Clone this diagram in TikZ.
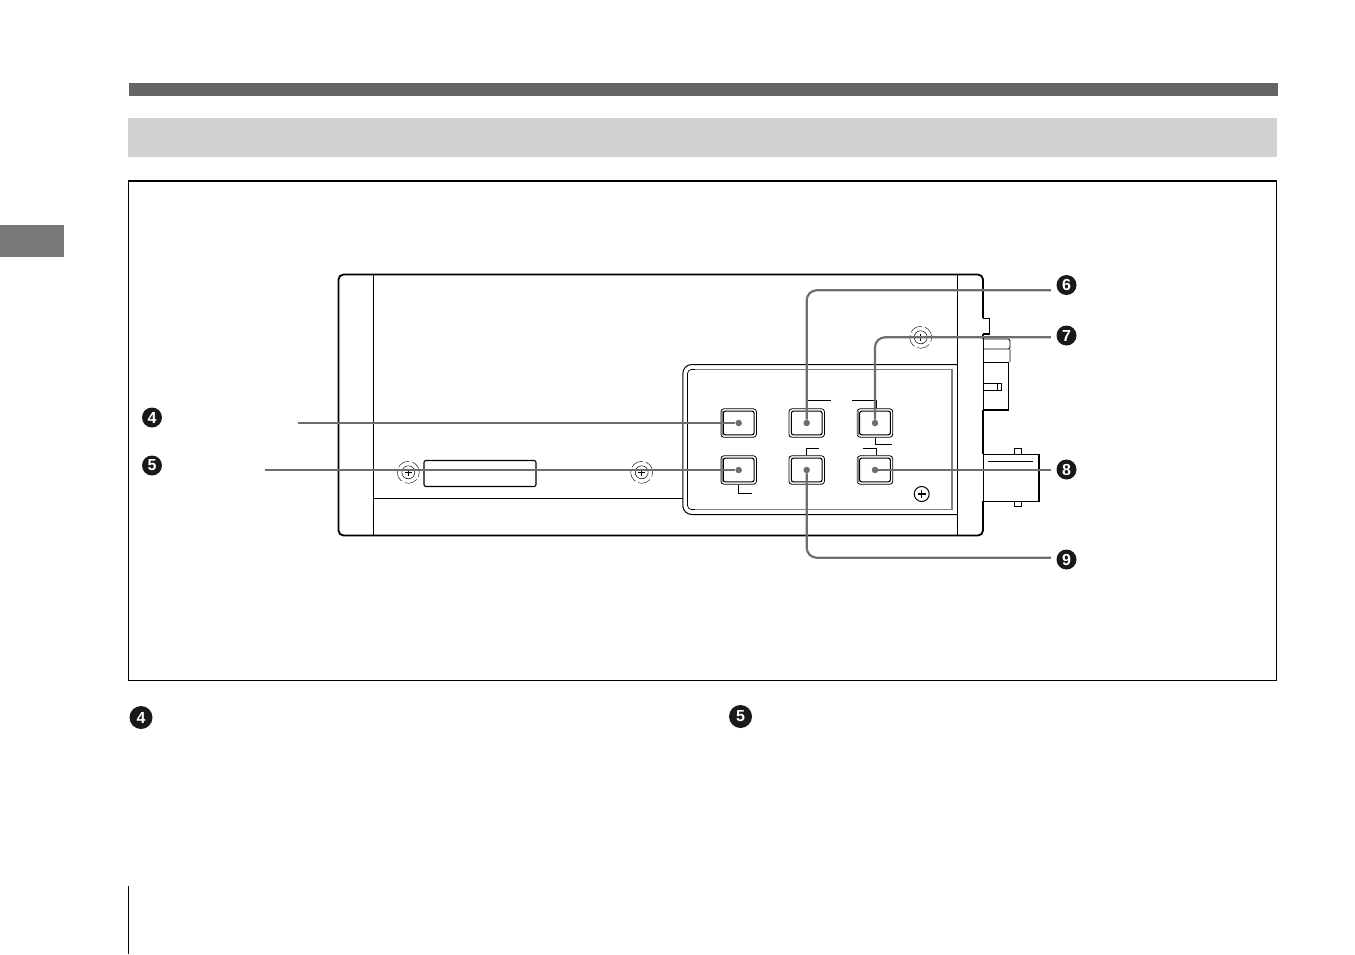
\documentclass[tikz,border=0pt]{standalone}
\usepackage{fontspec}
\setsansfont{Liberation Sans}
\definecolor{bandgray}{HTML}{666464}
\definecolor{tabgray}{HTML}{7A7878}
\definecolor{lightband}{HTML}{D1D1D1}
\definecolor{leadgray}{HTML}{6E6E6E}
\tikzset{
  badge/.style={circle,fill=black!90,text=white,inner sep=0pt,minimum size=#1,font=\sffamily\bfseries\fontsize{16}{16}\selectfont},
  keycap/.style={draw,line width=0.8pt,rounded corners=3pt,minimum width=35.5pt,minimum height=28.5pt,inner sep=0pt},
  keydot/.style={circle,fill=leadgray,inner sep=0pt,minimum size=6.5pt},
  leader/.style={draw=leadgray,line width=2.2pt,rounded corners=10pt},
  screw/.style={circle,draw,inner sep=0pt,minimum size=#1},
}
\begin{document}
\begin{tikzpicture}[x=1pt,y=-1pt]
	\useasboundingbox (0,0) rectangle (1355,954);
	\fill[bandgray] (129,83) rectangle (1278,96);
	\fill[lightband] (128,118) rectangle (1277,157);
	\fill[tabgray] (0,225) rectangle (64,257);
	\draw[line width=1pt] (128.5,180.5) rectangle (1276.7,680.7);
	\draw[line width=2pt] (128,180.5)--(1277,180.5);
	\draw[line width=1pt] (128.5,886)--(128.5,954);
	\draw[line width=1.8pt,rounded corners=5pt] (975,274.5)--(338.5,274.5)--(338.5,535.5)--(975,535.5);
	\draw[line width=1.8pt,rounded corners=5pt] (975,274.5)--(983,274.5)--(983,318);
	\draw[line width=2.4pt] (983,300)--(983,318) (983,334)--(983,339) (983,410)--(983,454) (983,501)--(983,525);
	\draw[line width=1.8pt,rounded corners=5pt] (983,520)--(983,535.5)--(975,535.5);
	\draw[line width=0.8pt] (983,339)--(983,501);
	\draw[line width=1pt] (373.5,274.5)--(373.5,535.5) (957.5,274.5)--(957.5,535.5) (373.5,498.5)--(683,498.5);
	\draw[line width=1.1pt,rounded corners=2pt] (424,460.5) rectangle (536,486.5);
	\draw[line width=1.3pt] (983,318.5)--(989.5,318.5)--(989.5,334)--(983,334);
	\draw[line width=0.9pt,rounded corners=1.5pt] (983,339)--(1010,339)--(1010,349)--(983,349) (1010,349)--(1010,362);
	\draw[line width=1.6pt] (983,362.5)--(1008.5,362.5)--(1008.5,410)--(983,410);
	\draw[line width=0.8pt] (983,383.5)--(1001.5,383.5)--(1001.5,390.5)--(983,390.5) (997.5,383.5)--(997.5,390.5);
	\draw[line width=0.8pt] (1014.5,454)--(1014.5,448.5)--(1021.5,448.5)--(1021.5,454) (1014.5,501)--(1014.5,506.5)--(1021.5,506.5)--(1021.5,501);
	\draw[line width=1pt] (983,454.5)--(1039,454.5) (983,501)--(1039,501) (987.5,461.5)--(1032.5,461.5);
	\draw[line width=1.8pt] (1039,454)--(1039,501.5);
	\draw[line width=1pt,rounded corners=9pt] (957,364.5)--(682.8,364.5)--(682.8,514.5)--(957,514.5);
	\draw[line width=0.7pt,rounded corners=4pt] (700,369.5)--(687.5,369.5)--(687.5,509.5)--(700,509.5);
	\draw[gray,line width=1.2pt] (695,369.5)--(952,369.5)--(952,509.5)--(695,509.5);
	\foreach \sx/\sy/\sname in {408.3/472.3/sa,641.7/472.3/sb,920.7/337.3/sc}{
		\node[screw=13pt,line width=0.5pt] (\sname) at (\sx,\sy) {};
		\draw[line width=1.1pt] (\sx-3.5,\sy)--(\sx+3.5,\sy) (\sx,\sy-3.5)--(\sx,\sy+3.5);
		\draw[line width=0.4pt,dash pattern=on 13pt off 3pt] (\sname) circle (11pt);
	}
	\node[screw=15pt,line width=1pt] (sd) at (921.7,494) {};
	\draw[line width=1.2pt] (917.7,494)--(925.7,494) (921.7,490)--(921.7,498);
	\foreach \kx/\ky/\kname in {738.7/423/a,806.7/423/b,875/423/c,738.7/470/d,806.7/470/e,875/470/f}{
		\node[keycap] (k\kname) at (\kx,\ky) {};
		\draw[line width=1.1pt,rounded corners=2pt] ([shift={(2.8,2.8)}]k\kname.north west) rectangle ([shift={(-2.8,-2.8)}]k\kname.south east);
		\node[keydot] (d\kname) at (\kx,\ky) {};
	}
	\foreach \kname in {a,c,d,f}{
		\draw[gray,line width=2pt] ([shift={(1.6,3)}]k\kname.north west)--([shift={(1.6,-3)}]k\kname.south west);
	}
	\draw[line width=1.5pt] (806.7,400.5)--(830.7,400.5) (852,400.5)--(876.7,400.5);
	\draw[line width=1pt] (876.3,400.5)--(kc.north -| 876.3,0);
	\draw[line width=1pt] (kc.south -| 875.7,0)--(875.7,444.5)--(891.7,444.5);
	\draw[line width=1pt] (ke.north -| 806.7,0)--(806.7,448.5)--(819,448.5);
	\draw[line width=1pt] (kf.north -| 876.5,0)--(876.5,448.5)--(863.3,448.5);
	\draw[line width=1pt] (kd.south -| 738.5,0)--(738.5,493.5)--(751.7,493.5);
	\node[badge=20pt] (ba) at (152,417.5) {4};
	\node[badge=20pt] (bb) at (152,465.5) {5};
	\node[badge=20pt] (bc) at (1066.5,285) {6};
	\node[badge=20pt] (bd) at (1066.5,335.5) {7};
	\node[badge=20pt] (be) at (1066.5,469.5) {8};
	\node[badge=20pt] (bf) at (1066.5,559.5) {9};
	\node[badge=23pt] (bg) at (141,717.5) {4};
	\node[badge=23pt] (bh) at (740.5,716.5) {5};
	\coordinate (la) at (298,423);
	\coordinate (lb) at (264.5,470);
	\draw[leader] (la)--(da);
	\draw[leader] (lb)--(dd);
	\draw[leader] ([shift={(-5.5,5.3)}]bc.west) -| (db);
	\draw[leader] ([shift={(-5.5,1.8)}]bd.west) -| (dc);
	\draw[leader] ([shift={(-5.5,0.5)}]be.west) -- (df);
	\draw[leader] ([shift={(-5.5,-1.8)}]bf.west) -| (de);
\end{tikzpicture}
\end{document}
